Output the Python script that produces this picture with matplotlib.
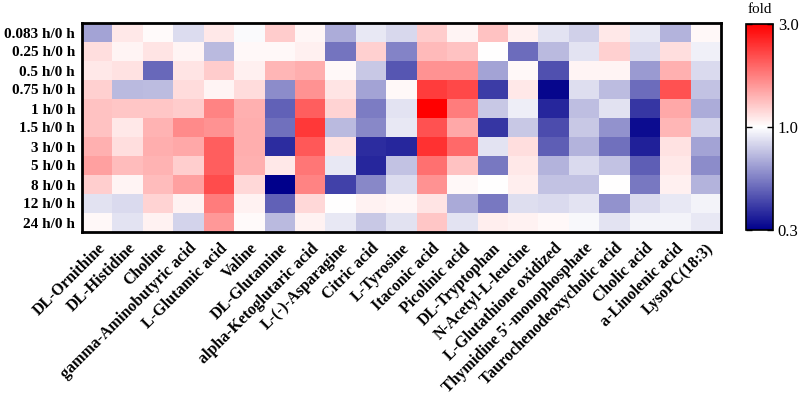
import numpy as np
import matplotlib
matplotlib.use("Agg")
import matplotlib.pyplot as plt
from matplotlib.colors import LinearSegmentedColormap, TwoSlopeNorm

rows = ["0.083 h/0 h", "0.25 h/0 h", "0.5 h/0 h", "0.75 h/0 h", "1 h/0 h", "1.5 h/0 h",
        "3 h/0 h", "5 h/0 h", "8 h/0 h", "12 h/0 h", "24 h/0 h"]
metabolites = ["DL-Ornithine", "DL-Histidine", "Choline", "gamma-Aminobutyric acid",
               "L-Glutamic acid", "Valine", "DL-Glutamine", "alpha-Ketoglutaric acid",
               "L-(-)-Asparagine", "Citric acid", "L-Tyrosine", "Itaconic acid",
               "Picolinic acid", "DL-Tryptophan", "N-Acetyl-L-leucine",
               "L-Glutathione oxidized", "Thymidine 5'-monophosphate",
               "Taurochenodeoxycholic acid", "Cholic acid", "a-Linolenic acid", "LysoPC(18:3)"]

fold_0083 = [0.65, 1.10, 1.02, 0.85, 1.10, 0.98, 1.25, 1.04, 0.68, 0.90, 0.83,
             1.25, 1.05, 1.30, 1.07, 0.88, 0.80, 1.10, 0.90, 0.70, 1.03]
fold_025 = [1.15, 1.05, 1.12, 1.05, 0.72, 1.03, 1.03, 1.07, 0.52, 1.22, 0.56,
            1.35, 1.30, 1.00, 0.50, 0.72, 0.88, 1.22, 0.84, 1.15, 0.93]
fold_05 = [1.10, 1.13, 0.49, 1.12, 1.25, 1.07, 1.37, 1.42, 1.03, 0.77, 0.45,
           1.60, 1.60, 0.65, 1.03, 0.44, 1.05, 1.05, 0.62, 1.40, 0.84]
fold_075 = [1.22, 0.72, 0.73, 1.16, 1.05, 1.16, 0.58, 1.60, 1.12, 0.65, 1.03,
            2.30, 2.20, 0.40, 1.10, 0.31, 0.86, 0.73, 0.50, 2.10, 0.75]
fold_1 = [1.30, 1.28, 1.28, 1.24, 1.70, 1.40, 0.48, 2.00, 1.20, 0.54, 0.88,
          3.00, 1.75, 0.77, 0.92, 0.36, 0.74, 0.87, 0.39, 1.45, 0.68]
fold_15 = [1.30, 1.10, 1.38, 1.65, 1.60, 1.42, 0.51, 2.35, 0.72, 0.57, 0.90,
           2.10, 1.45, 0.39, 0.77, 0.43, 0.77, 0.60, 0.32, 1.37, 0.82]
fold_3 = [1.40, 1.15, 1.42, 1.45, 2.00, 1.42, 0.37, 2.05, 1.13, 0.37, 0.36,
          2.40, 1.90, 0.88, 1.15, 0.47, 0.70, 0.51, 0.35, 1.13, 0.65]
fold_5 = [1.50, 1.33, 1.38, 1.23, 2.00, 1.40, 1.10, 1.80, 0.90, 0.36, 0.75,
          1.85, 1.30, 0.53, 1.10, 0.70, 0.84, 0.75, 0.47, 1.10, 0.58]
fold_8 = [1.23, 1.05, 1.33, 1.50, 2.15, 1.18, 0.30, 1.70, 0.41, 0.57, 0.85,
          1.60, 1.03, 1.00, 1.08, 0.75, 0.75, 1.00, 0.53, 1.07, 0.70]
fold_12 = [0.87, 0.84, 1.20, 1.06, 1.75, 1.06, 0.48, 1.18, 1.00, 1.06, 1.04,
           1.12, 0.67, 0.53, 0.86, 0.84, 0.88, 0.60, 0.84, 0.90, 0.95]
fold_24 = [1.03, 0.88, 1.06, 0.82, 1.55, 1.02, 0.72, 1.06, 0.90, 0.77, 0.87,
           1.28, 0.88, 1.08, 1.06, 1.03, 0.97, 0.88, 0.95, 0.95, 0.90]

data = np.array([fold_0083, fold_025, fold_05, fold_075, fold_1, fold_15,
                 fold_3, fold_5, fold_8, fold_12, fold_24])

cbar_ticks = [0.3, 1.0, 3.0]

plt.rcParams['font.family'] = ['Liberation Serif', 'DejaVu Serif']

cmap = LinearSegmentedColormap.from_list("bwr_fold", ["#00008B", "#FFFFFF", "#FF0000"])
norm = TwoSlopeNorm(vmin=np.log10(0.3), vcenter=0.0, vmax=np.log10(3.0))

fig = plt.figure(figsize=(8.03, 3.96), dpi=100)
ax = fig.add_axes([82/803, 1-232/396, 639/803, 209/396])
im = ax.imshow(np.log10(data), cmap=cmap, norm=norm, aspect='auto', interpolation='nearest')

ax.set_yticks(range(len(rows)))
ax.set_yticklabels(rows, fontsize=11, fontweight='bold')
ax.set_xticks(range(len(metabolites)))
ax.set_xticklabels(metabolites, fontsize=11.5, fontweight='bold', rotation=45,
                   ha='right', va='top', rotation_mode='anchor')
ax.tick_params(axis='y', length=0, pad=5)
ax.tick_params(axis='x', length=0, pad=6)
for s in ax.spines.values():
    s.set_linewidth(2)
    s.set_color('black')

cax = fig.add_axes([746/803, 1-230/396, 27/803, 206/396])
cb = fig.colorbar(im, cax=cax)
cb.set_ticks([np.log10(t) for t in cbar_ticks])
cb.set_ticklabels([f"{t:.1f}" for t in cbar_ticks])
cb.ax.tick_params(labelsize=12, direction='in', length=4, width=1, left=True, right=True)
cb.outline.set_linewidth(1.2)
cax.set_title("fold", fontsize=11, pad=8)

fig.savefig("out.png", dpi=100)
